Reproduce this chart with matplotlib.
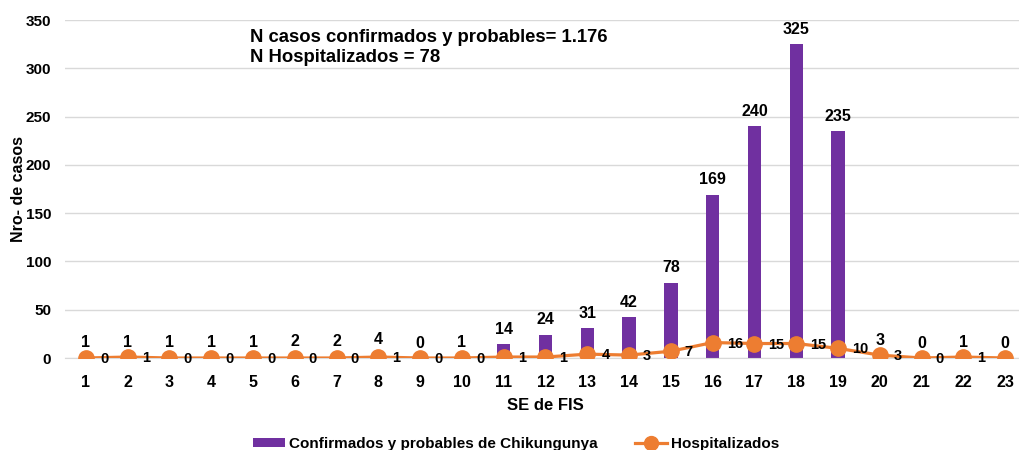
import matplotlib
matplotlib.use("Agg")
import matplotlib.pyplot as plt
from matplotlib.lines import Line2D
from matplotlib.patches import Patch

plt.rcParams['font.family'] = ['Liberation Sans', 'DejaVu Sans']

weeks = list(range(1, 24))
confirmados = [1, 1, 1, 1, 1, 2, 2, 4, 0, 1, 14, 24, 31, 42, 78, 169, 240, 325, 235, 3, 0, 1, 0]
hospitalizados = [0, 1, 0, 0, 0, 0, 0, 1, 0, 0, 1, 1, 4, 3, 7, 16, 15, 15, 10, 3, 0, 1, 0]
yticks = [0, 50, 100, 150, 200, 250, 300, 350]
annot_lines = ["N casos confirmados y probables= 1.176", "N Hospitalizados = 78"]

purple = "#7030A0"
orange = "#ED7D31"

W, H = 1020, 450
fig = plt.figure(figsize=(W / 100, H / 100), dpi=100)
left, right = 65, 1026
bottom, top = 358, 20
ax = fig.add_axes([left / W, 1 - bottom / H, (right - left) / W, (bottom - top) / H])

ax.bar(weeks, confirmados, width=0.32, color=purple, zorder=2)
ax.plot(weeks, hospitalizados, color=orange, lw=2.3, marker='o', markersize=11, zorder=3)

ax.set_xlim(0.5, 23.5)
ax.set_ylim(0, 350)
ax.set_yticks(yticks)
ax.set_xticks(weeks)
ax.grid(axis='y', color='#d9d9d9', lw=1, zorder=0)
for s in ['top', 'right', 'left']:
    ax.spines[s].set_visible(False)
ax.spines['bottom'].set_color('#d9d9d9')
ax.tick_params(axis='both', length=0)
ax.tick_params(axis='x', pad=12, labelsize=11.5)
ax.tick_params(axis='y', pad=10, labelsize=11)
for lab in ax.get_xticklabels() + ax.get_yticklabels():
    lab.set_fontweight('bold')

ax.set_xlabel("SE de FIS", fontsize=12, fontweight='bold', labelpad=6)
ax.set_ylabel("Nro- de casos", fontsize=11.5, fontweight='bold', labelpad=0)

for x, v in zip(weeks, confirmados):
    ax.annotate(str(v), (x, v), xytext=(0, 15), textcoords='offset pixels',
                ha='center', va='center', fontsize=11.5, fontweight='bold', zorder=4)
# the last point's label falls outside the visible figure in the reference
for x, v in zip(weeks[:-1], hospitalizados[:-1]):
    ax.annotate(str(v), (x, v), xytext=(14, -1), textcoords='offset pixels',
                ha='left', va='center', fontsize=10.5, fontweight='bold', zorder=4)

fig.text(250 / W, 1 - 38 / H, annot_lines[0], fontsize=13.3, fontweight='bold', va='center', ha='left')
fig.text(250 / W, 1 - 58 / H, annot_lines[1], fontsize=13.3, fontweight='bold', va='center', ha='left')

handles = [Patch(facecolor=purple, label="Confirmados y probables de Chikungunya"),
           Line2D([0], [0], color=orange, lw=2.3, marker='o', markersize=10, label="Hospitalizados")]
leg = fig.legend(handles=handles, loc='center', bbox_to_anchor=(516 / W, 1 - 444 / H), ncol=2,
                 frameon=False, prop={'weight': 'bold', 'size': 11}, handlelength=2.1,
                 handleheight=0.5, handletextpad=0.3, columnspacing=2.4)

fig.savefig("out.png", dpi=100)
